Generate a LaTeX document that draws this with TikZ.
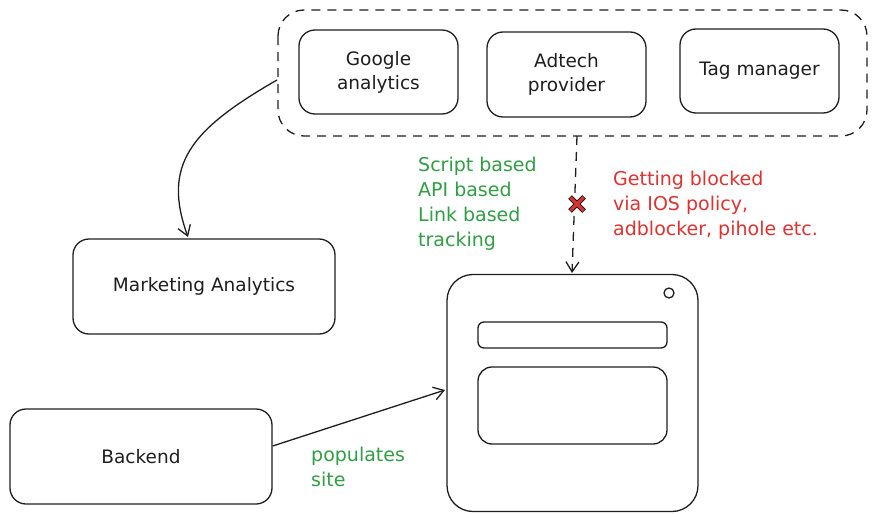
\documentclass[tikz,border=0pt]{standalone}
\usepackage{fontspec}
\setmainfont{DejaVu Sans}
\usetikzlibrary{arrows.meta}
\definecolor{ink}{HTML}{1E1E1E}
\definecolor{xgreen}{HTML}{2F9E44}
\definecolor{xred}{HTML}{E03131}
\tikzset{
  box/.style={draw=ink, line width=1.3pt, rounded corners=16pt, inner sep=0pt},
  lbl/.style={font=\fontsize{18.5}{24}\selectfont, text=ink, align=center},
  note/.style={font=\fontsize{19}{25}\selectfont, align=left, anchor=north west, inner sep=0pt},
  arr/.style={draw=ink, line width=1.3pt, -{Straight Barb[length=10pt,width=13pt]}}
}
\begin{document}
\begin{tikzpicture}[x=1pt,y=-1pt]
\useasboundingbox (0,0) rectangle (876,514);
% group
\draw[ink, line width=1.3pt, dash pattern=on 9pt off 7pt, rounded corners=26pt] (278,10) rectangle (867,136);
\node[box, minimum width=159pt, minimum height=84pt] (ga) at (378.5,72) {};
\node[lbl] at (ga) {Google\\analytics};
\node[box, minimum width=159pt, minimum height=85pt] (ad) at (566.5,74.5) {};
\node[lbl] at (ad) {Adtech\\provider};
\node[box, minimum width=159pt, minimum height=84pt] (tm) at (759.5,71) {};
\node[lbl] at (tm) {Tag manager};
\coordinate (grpL) at (277,80);
\coordinate (grpB) at (577,136);
% marketing
\node[box, minimum width=262pt, minimum height=95pt] (ma) at (204,286.5) {};
\node[lbl] at (ma) {Marketing Analytics};
% backend
\node[box, minimum width=262pt, minimum height=95pt] (be) at (141,456.5) {};
\node[lbl] at (be) {Backend};
% site
\node[box, rounded corners=26pt, minimum width=251pt, minimum height=237pt] (site) at (572.5,393) {};
\draw[ink, line width=1.3pt, rounded corners=6pt] (478,322) rectangle (667,348);
\draw[ink, line width=1.3pt, rounded corners=14pt] (478,367) rectangle (667,444);
\draw[ink, line width=1.3pt] (669,293) circle (5pt);
% arrows
\draw[arr] (grpL) .. controls (190,130) and (162,165) .. (188,237);
\draw[arr, dash pattern=on 9pt off 7pt] (grpB) -- (572,273);
\draw[arr] (be.east |- 0,446) -- (445,390);
% x mark
\draw[ink, line width=5pt] (570,197) -- (584,211) (584,197) -- (570,211);
\draw[xred, line width=3pt] (570.5,197.5) -- (583.5,210.5) (583.5,197.5) -- (570.5,210.5);
% notes
\node[note, text=xgreen] (n1) at (418,157) {Script based\\API based\\Link based\\tracking};
\node[note, text=xred] (n2) at (613,171) {Getting blocked\\via IOS policy,\\adblocker, pihole etc.};
\node[note, text=xgreen] (n3) at (311,447) {populates\\site};
\end{tikzpicture}
\end{document}
